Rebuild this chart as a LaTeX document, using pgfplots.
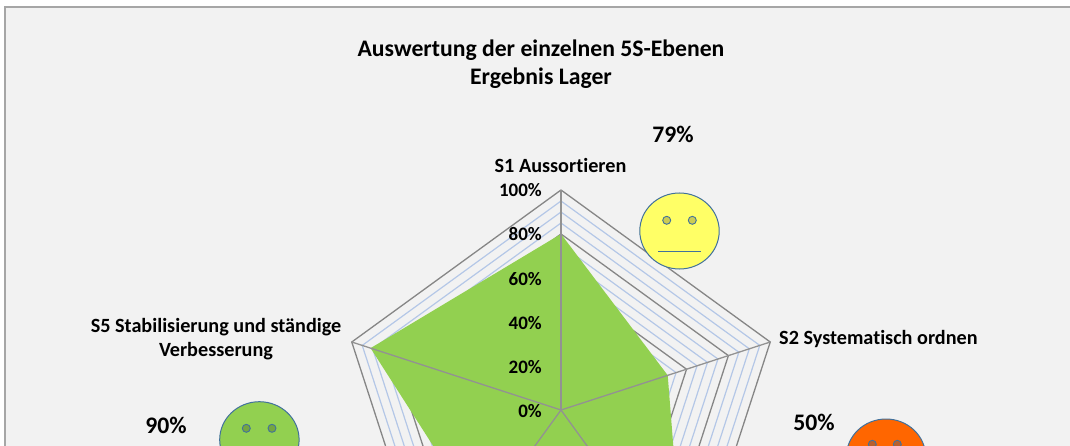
\documentclass[border=0pt]{standalone}
\usepackage{pgfplots}
\usepackage{pgfplotstable}
\usepackage{fontspec}
\setmainfont{Carlito}[Ligatures=NoCommon]
\pgfplotsset{compat=1.18}
\definecolor{bgc}{HTML}{F2F2F2}
\definecolor{framec}{HTML}{A6A6A6}
\definecolor{ringc}{HTML}{868686}
\definecolor{minorc}{HTML}{B4C7E7}
\definecolor{greenc}{HTML}{92D050}
\definecolor{spokec}{HTML}{929292}
\definecolor{edgec}{HTML}{41719C}
\definecolor{yel}{HTML}{FFFF66}
\definecolor{yeleye}{HTML}{CCCC52}
\definecolor{orc}{HTML}{FF6600}
\definecolor{oreye}{HTML}{B8602E}
\definecolor{greye}{HTML}{75A640}
\pgfplotstableread{
a b
90 0
18 0
-54 0
-126 0
162 0
90 0
}\ringtable
\pgfplotstableread{
a v
90 80
18 51
-54 95
-126 62
162 91
}\datatable
\pgfplotstableread{
v b
0 0
100 0
}\spoketable
\begin{document}
\begin{tikzpicture}
\useasboundingbox (0,0) rectangle (1070pt,446pt);
\clip (0,0) rectangle (1070pt,446pt);
\begin{axis}[
  at={(0,446pt)}, anchor=north west,
  scale only axis, width=1070pt, height=520pt,
  xmin=0, xmax=1070, ymin=0, ymax=520, y dir=reverse,
  hide axis, clip=true, clip marker paths=true,
  declare function={px(\a,\v)=561+2.2*\v*cos(\a); py(\a,\v)=410-2.2*\v*sin(\a);},
]
% background and frame
\addplot[draw=none, fill=bgc, forget plot] coordinates {(5,7)(1075,7)(1075,450)(5,450)} -- cycle;
\addplot[draw=framec, line width=2.2pt, forget plot] coordinates {(1075,7)(5,7)(5,450)};
% minor rings
\pgfplotsinvokeforeach{5,10,15,25,30,35,45,50,55,65,70,75,85,90,95}{
\addplot[draw=minorc, line width=1.2pt, forget plot] table[x expr={px(\thisrow{a},#1)}, y expr={py(\thisrow{a},#1)}] {\ringtable};
}
% major rings
\pgfplotsinvokeforeach{20,40,60,80,100}{
\addplot[draw=ringc, line width=1.3pt, forget plot] table[x expr={px(\thisrow{a},#1)}, y expr={py(\thisrow{a},#1)}] {\ringtable};
}
% data
\addplot[draw=none, fill=greenc] table[x expr={px(\thisrow{a},\thisrow{v})}, y expr={py(\thisrow{a},\thisrow{v})}] {\datatable} -- cycle;
% spokes
\pgfplotsinvokeforeach{18,-54,-126,162}{
\addplot[draw=spokec, line width=1.3pt, forget plot] table[x expr={px(#1,\thisrow{v})}, y expr={py(#1,\thisrow{v})}] {\spoketable};
}
\addplot[draw=spokec, line width=1.8pt, forget plot] table[x expr={px(90,\thisrow{v})}, y expr={py(90,\thisrow{v})}] {\spoketable};
% smileys
\addplot[only marks, mark=*, mark size=38, mark options={xscale=1.045, draw=edgec, fill=yel, line width=1pt}] coordinates {(679.5,231)};
\addplot[only marks, mark=*, mark size=38, mark options={xscale=1.045, draw=edgec, fill=orc, line width=1pt}] coordinates {(886,457)};
\addplot[only marks, mark=*, mark size=38, mark options={xscale=1.045, draw=edgec, fill=greenc, line width=1pt}] coordinates {(259.4,439.7)};
\addplot[only marks, mark=*, mark size=4, mark options={draw=edgec, fill=yeleye, line width=0.9pt}] coordinates {(666.7,220.3)(692.3,220.3)};
\addplot[only marks, mark=*, mark size=4, mark options={draw=edgec, fill=oreye, line width=0.9pt}] coordinates {(872.3,444.3)(897.3,444.3)};
\addplot[only marks, mark=*, mark size=4, mark options={draw=edgec, fill=greye, line width=0.9pt}] coordinates {(246.3,428.3)(272,428.3)};
\addplot[draw=edgec, line width=1pt] coordinates {(658,251.3)(701,251.3)};
% text
\node[font=\fontsize{23.7}{28}\selectfont\bfseries, align=center, text=black] at (axis cs:541,64.5) {Auswertung der einzelnen 5S-Ebenen\\Ergebnis Lager};
\node[font=\fontsize{20.2}{24}\selectfont\bfseries] at (axis cs:560.5,165.5) {S1 Aussortieren};
\node[font=\fontsize{20.2}{24}\selectfont\bfseries, anchor=west, inner sep=0pt] at (axis cs:779,339) {S2 Systematisch ordnen};
\node[font=\fontsize{20.2}{24}\selectfont\bfseries, align=center] at (axis cs:216,339.5) {S5 Stabilisierung und ständige\\Verbesserung};
\node[font=\fontsize{19}{22}\selectfont\bfseries, anchor=east, inner sep=0pt] at (axis cs:542,190.5) {100\%};
\node[font=\fontsize{19}{22}\selectfont\bfseries, anchor=east, inner sep=0pt] at (axis cs:542,234.5) {80\%};
\node[font=\fontsize{19}{22}\selectfont\bfseries, anchor=east, inner sep=0pt] at (axis cs:542,279) {60\%};
\node[font=\fontsize{19}{22}\selectfont\bfseries, anchor=east, inner sep=0pt] at (axis cs:542,323) {40\%};
\node[font=\fontsize{19}{22}\selectfont\bfseries, anchor=east, inner sep=0pt] at (axis cs:542,367) {20\%};
\node[font=\fontsize{19}{22}\selectfont\bfseries, anchor=east, inner sep=0pt] at (axis cs:542,411) {0\%};
\node[font=\fontsize{23.7}{28}\selectfont\bfseries] at (axis cs:673,134) {79\%};
\node[font=\fontsize{23.7}{28}\selectfont\bfseries] at (axis cs:814,422) {50\%};
\node[font=\fontsize{23.7}{28}\selectfont\bfseries] at (axis cs:166,425) {90\%};
\end{axis}
\end{tikzpicture}
\end{document}
